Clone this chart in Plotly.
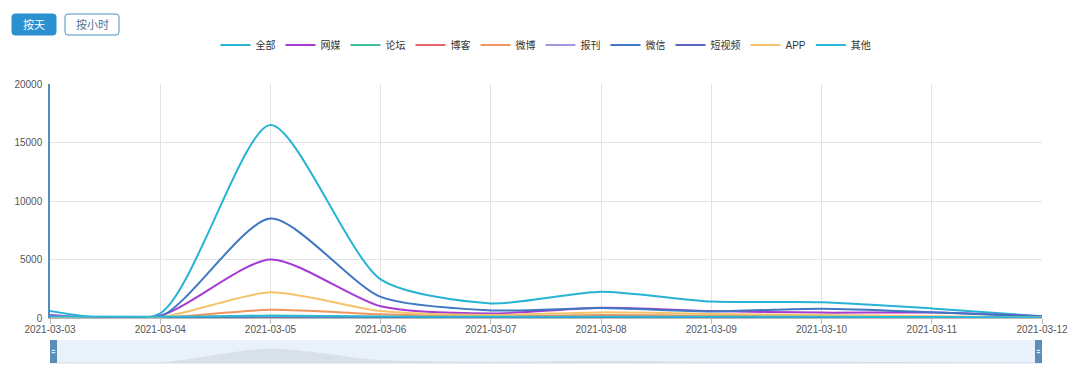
import plotly.graph_objects as go

dates = ["2021-03-03", "2021-03-04", "2021-03-05", "2021-03-06", "2021-03-07",
         "2021-03-08", "2021-03-09", "2021-03-10", "2021-03-11", "2021-03-12"]

series_names = ["全部", "网媒", "论坛", "博客", "微博", "报刊", "微信", "短视频", "APP", "其他"]
series_colors = ["#27b4d4", "#a63ad2", "#3fbf9f", "#e8636a", "#f0955e",
                 "#a896dc", "#3f78c0", "#5a63b8", "#f5c46a", "#2ab8d8"]

v_all = [600, 400, 16500, 3300, 1250, 2250, 1400, 1350, 820, 150]
v_web = [250, 200, 5000, 1000, 380, 880, 600, 460, 460, 150]
v_forum = [30, 30, 220, 100, 60, 80, 60, 60, 50, 20]
v_blog = [10, 10, 80, 40, 20, 30, 30, 25, 20, 10]
v_weibo = [40, 30, 700, 320, 150, 260, 200, 160, 110, 30]
v_paper = [20, 20, 150, 60, 40, 50, 40, 40, 30, 10]
v_wechat = [150, 100, 8500, 1800, 650, 850, 560, 800, 500, 120]
v_video = [40, 30, 130, 80, 60, 60, 50, 50, 40, 20]
v_app = [60, 50, 2200, 600, 260, 480, 350, 260, 160, 50]
v_other = [120, 100, 170, 120, 100, 110, 100, 100, 80, 50]

series_values = [v_all, v_web, v_forum, v_blog, v_weibo, v_paper, v_wechat, v_video, v_app, v_other]

FONT = "Liberation Sans, Noto Sans CJK SC, sans-serif"
SMOOTH = 0.7

fig = go.Figure()
for i in range(len(series_names)):
    fig.add_trace(go.Scatter(
        x=dates, y=series_values[i], name=series_names[i], mode="lines",
        line=dict(color=series_colors[i], width=2, shape="spline", smoothing=SMOOTH),
        xaxis="x", yaxis="y", hoverinfo="x+y+name",
    ))

# data zoom preview
fig.add_trace(go.Scatter(
    x=dates, y=v_all, mode="lines", fill="tozeroy", showlegend=False,
    line=dict(color="rgba(0,0,0,0)", width=0, shape="spline", smoothing=SMOOTH),
    fillcolor="#d8e0ea", xaxis="x2", yaxis="y2", hoverinfo="skip",
))

# page body has an 8px margin; positions below are target screen pixels
OFF = 8
W, H = 1080, 376
ml = 50 - OFF
mt = 84 - OFF
pw = 992
mr = W - ml - pw
mb = H - (363 - OFF)
ph = H - mt - mb

def px(x):
    return (x - OFF - ml) / pw

def py(y):
    return (H - mb - (y - OFF)) / ph

main_bottom = py(318)
slider_top = py(340)
slider_bot = py(363)

shapes = []
annotations = []

def rrect(x0, y0, x1, y1, r=3):
    X0, X1 = px(x0), px(x1)
    Yb, Yt = py(y1), py(y0)
    rx, ry = r / pw, r / ph
    return (f"M {X0+rx} {Yb} L {X1-rx} {Yb} Q {X1} {Yb} {X1} {Yb+ry} "
            f"L {X1} {Yt-ry} Q {X1} {Yt} {X1-rx} {Yt} L {X0+rx} {Yt} "
            f"Q {X0} {Yt} {X0} {Yt-ry} L {X0} {Yb+ry} Q {X0} {Yb} {X0+rx} {Yb} Z")

shapes.append(dict(type="path", xref="paper", yref="paper", path=rrect(12, 14, 56, 35),
                   fillcolor="#2a90d0", line=dict(color="#2a90d0", width=1)))
shapes.append(dict(type="path", xref="paper", yref="paper", path=rrect(65, 14, 119, 35),
                   fillcolor="white", line=dict(color="#4b93c6", width=1)))
annotations.append(dict(text="按天", x=px(34), y=py(24.5), xref="paper", yref="paper",
                        xanchor="center", yanchor="middle",
                        showarrow=False, font=dict(color="white", size=11, family=FONT)))
annotations.append(dict(text="按小时", x=px(92), y=py(24.5), xref="paper", yref="paper",
                        xanchor="center", yanchor="middle",
                        showarrow=False, font=dict(color="#4f7596", size=11, family=FONT)))

# slider background
shapes.append(dict(type="rect", xref="x2 domain", yref="y2 domain", x0=0, x1=1, y0=0, y1=1,
                   fillcolor="#e9f1fb", line=dict(width=0), layer="below"))
shapes.append(dict(type="line", xref="x2 domain", yref="y2 domain", x0=0, x1=1, y0=0, y1=0,
                   line=dict(color="#d3dde9", width=1)))
hw = 7 / pw
for hx in (0.0, 1.0 - hw):
    shapes.append(dict(type="rect", xref="x2 domain", yref="y2 domain", x0=hx, x1=hx + hw,
                       y0=0, y1=1.0, fillcolor="#5b8db9", line=dict(width=0)))
    for yy in (0.45, 0.55):
        shapes.append(dict(type="line", xref="x2 domain", yref="y2 domain",
                           x0=hx + hw * 0.25, x1=hx + hw * 0.75, y0=yy, y1=yy,
                           line=dict(color="white", width=1)))

fig.update_layout(
    width=W, height=H,
    margin=dict(l=ml, r=mr, t=mt, b=mb, autoexpand=False),
    paper_bgcolor="white", plot_bgcolor="white",
    font=dict(family=FONT, size=10, color="#555"),
    showlegend=True,
    legend=dict(orientation="h", x=0.5, xanchor="center", y=py(45), yanchor="middle",
                font=dict(size=10, color="#333", family=FONT), itemwidth=30,
                tracegroupgap=0, bgcolor="rgba(0,0,0,0)"),
    xaxis=dict(type="date", range=[dates[0], dates[-1]], domain=[0, 1], anchor="y",
               tickvals=dates, ticktext=dates, tickfont=dict(size=10, color="#555"),
               showgrid=True, gridcolor="#e3e3e3", gridwidth=1,
               showline=True, linecolor="#bbbbbb", linewidth=1, automargin=False,
               ticks="outside", ticklen=5, tickcolor="#bbbbbb", zeroline=False,
               ticklabelstandoff=-3),
    yaxis=dict(range=[0, 20000], dtick=5000, tickformat="d", domain=[main_bottom, 1], anchor="x",
               tickfont=dict(size=10, color="#555"), showgrid=True, gridcolor="#e3e3e3",
               showline=True, linecolor="#4f8fc0", linewidth=1.5, zeroline=False,
               ticks="", ticklabelstandoff=4, automargin=False),
    xaxis2=dict(type="date", range=[dates[0], dates[-1]], domain=[0, 1], anchor="y2",
                visible=False, fixedrange=True),
    yaxis2=dict(range=[0, 26000], domain=[slider_bot, slider_top], anchor="x2",
                visible=False, fixedrange=True),
    shapes=shapes, annotations=annotations,
)

fig.write_html("out.html")
